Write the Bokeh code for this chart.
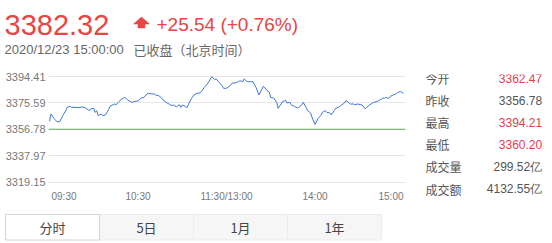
from bokeh.plotting import figure
from bokeh.models import Range1d, FixedTicker, Span, PrintfTickFormatter
from bokeh.layouts import column, row
from bokeh.core.properties import value
from bokeh.embed import file_html
from bokeh.resources import INLINE

# ---------------- data ----------------
minutes = [0, 1, 3, 5, 7, 9, 11, 12, 14, 15, 18, 20, 22, 24, 26, 27, 28, 30, 31, 32,
           33, 35, 36, 38, 40, 41, 44, 45, 47, 49, 51, 53, 55, 56, 58, 60, 62, 64, 66, 67,
           69, 71, 72, 74, 76, 77, 79, 81, 83, 84, 86, 88, 89, 90, 92, 93, 94, 96, 98, 100,
           102, 103, 105, 107, 108, 110, 112, 113, 115, 117, 118, 120, 121, 123, 124, 126, 128, 129, 131, 132,
           134, 136, 138, 140, 142, 144, 145, 147, 149, 150, 152, 154, 155, 157, 158, 160, 161, 163, 164, 166,
           168, 169, 171, 172, 174, 175, 177, 178, 180, 182, 184, 185, 187, 188, 190, 191, 193, 194, 196, 198,
           200, 201, 202, 204, 206, 207, 209, 211, 212, 214, 215, 217, 219, 220, 222, 224, 226, 227, 228, 230,
           231, 233, 235, 236, 238, 239, 240]
prices = [3362.47, 3367.69, 3364.55, 3362.20, 3362.20, 3366.50, 3370.05, 3372.40, 3373.10, 3372.40,
          3372.40, 3372.20, 3372.70, 3372.20, 3370.80, 3370.05, 3371.30, 3371.70, 3368.80, 3370.05,
          3366.50, 3367.70, 3366.50, 3367.00, 3370.80, 3373.10, 3374.80, 3374.10, 3376.50, 3378.40,
          3379.50, 3377.70, 3376.50, 3376.00, 3376.70, 3377.00, 3379.10, 3379.50, 3382.00, 3382.40,
          3382.00, 3382.00, 3381.20, 3380.75, 3379.10, 3377.70, 3376.00, 3374.80, 3373.60, 3374.10,
          3372.70, 3374.30, 3372.40, 3374.10, 3373.10, 3372.00, 3374.10, 3378.40, 3381.20, 3382.40,
          3382.70, 3383.60, 3386.70, 3389.10, 3390.70, 3394.21, 3392.20, 3392.70, 3390.20, 3387.90,
          3386.00, 3386.00, 3386.70, 3388.40, 3389.80, 3389.80, 3390.70, 3391.40, 3390.70, 3392.70,
          3390.70, 3390.70, 3390.70, 3386.70, 3381.20, 3385.50, 3387.40, 3385.00, 3383.10, 3379.50,
          3379.10, 3376.00, 3371.70, 3374.80, 3376.50, 3377.40, 3375.50, 3376.00, 3374.10, 3373.10,
          3372.00, 3372.40, 3374.10, 3376.00, 3372.40, 3370.05, 3368.40, 3365.30, 3360.20, 3364.30,
          3366.70, 3368.80, 3370.05, 3368.80, 3368.40, 3367.00, 3370.05, 3371.70, 3372.40, 3374.10,
          3375.50, 3377.20, 3376.50, 3374.80, 3374.80, 3374.30, 3374.80, 3374.30, 3374.10, 3371.30,
          3372.40, 3374.10, 3375.50, 3376.00, 3376.50, 3377.70, 3379.10, 3378.80, 3379.50, 3378.80,
          3380.25, 3381.20, 3382.00, 3383.10, 3383.60, 3383.10, 3382.32]
prev_close = 3356.78
y_ticks = [3319.15, 3337.97, 3356.78, 3375.59, 3394.41]
x_tick_minutes = [0, 60, 120, 180, 240]
x_tick_labels = ["09:30", "10:30", "11:30/13:00", "14:00", "15:00"]

last_price = "3382.32"
change_text = "+25.54 (+0.76%)"
timestamp = "2020/12/23 15:00:00"
status_text = "已收盘（北京时间）"

stat_names = ["今开", "昨收", "最高", "最低", "成交量", "成交额"]
stat_values = ["3362.47", "3356.78", "3394.21", "3360.20", "299.52亿", "4132.55亿"]
stat_is_red = [True, False, True, True, False, False]

tab_labels = ["分时", "5日", "1月", "1年"]

# ---------------- styles ----------------
RED = "#e84545"
RED2 = "#e2404d"
GRAY = "#777777"
DARK = "#555555"
LAT = "Liberation Sans"
CJK = "Noto Sans CJK SC"


def blank(w, h, y0, y1, top=0, bottom=0):
    f = figure(width=w, height=h, x_range=Range1d(0, w), y_range=Range1d(y1, y0),
               x_axis_location=None, y_axis_location=None, toolbar_location=None,
               output_backend="svg", min_border_left=0, min_border_right=0,
               min_border_top=top, min_border_bottom=bottom)
    f.outline_line_color = None
    f.grid.grid_line_color = None
    f.background_fill_color = "white"
    f.border_fill_color = "white"
    return f


# ---------------- header ----------------
head = blank(552, 62, 0, 62)
head.text(x=[4], y=[24.5], text=[last_price], text_font=value(LAT), text_font_size="29px",
          text_color=RED, text_baseline="middle", text_align="left")
head.patch(x=[141, 149, 144.5, 144.5, 137.5, 137.5, 133],
           y=[16.5, 23.5, 23.5, 27.5, 27.5, 23.5, 23.5], fill_color=RED, line_color=RED, line_width=0.5)
head.text(x=[156], y=[24], text=[change_text], text_font=value(LAT), text_font_size="19px",
          text_color=RED, text_baseline="middle", text_align="left")
head.text(x=[4], y=[48.5], text=[timestamp], text_font=value(LAT), text_font_size="13px",
          text_color="#666666", text_baseline="middle", text_align="left")
head.text(x=[133], y=[48.5], text=[status_text], text_font=value(CJK), text_font_size="13px",
          text_color="#666666", text_baseline="middle", text_align="left")

# ---------------- main chart ----------------
# frame spans canvas x 48..405 and local y 12..148; the band below the lowest gridline holds the time labels
UPP = 75.26 / 105.5          # price units per pixel
y_lo = y_ticks[0] - 28.5 * UPP
y_hi = y_ticks[-1] + 2 * UPP
p = figure(width=410, height=148, x_range=Range1d(-0.678, 241.356), y_range=Range1d(y_lo, y_hi),
           x_axis_location=None, toolbar_location=None, output_backend="svg",
           min_border_left=48, min_border_right=5, min_border_top=12, min_border_bottom=0)
p.outline_line_color = None
p.background_fill_color = "white"
p.border_fill_color = "white"
p.yaxis.ticker = FixedTicker(ticks=y_ticks)
p.yaxis.formatter = PrintfTickFormatter(format="%.2f")
p.yaxis.axis_line_color = None
p.yaxis.major_tick_line_color = None
p.yaxis.minor_tick_line_color = None
p.yaxis.major_tick_out = 0
p.yaxis.major_tick_in = 0
p.yaxis.major_label_standoff = 3
p.yaxis.major_label_text_font = LAT
p.yaxis.major_label_text_font_size = "11px"
p.yaxis.major_label_text_color = GRAY
p.ygrid.grid_line_color = "#e6e6e6"
p.xgrid.grid_line_color = None

p.add_layout(Span(location=prev_close, dimension="width", line_color="#5caf57", line_width=1))
p.line(minutes, prices, line_color="#3f78d6", line_width=1)

lab_y = y_ticks[0] - 14 * UPP
p.text(x=x_tick_minutes[:1], y=[lab_y], text=x_tick_labels[:1], x_offset=2,
       text_align="left", text_baseline="middle", text_font=value(LAT), text_font_size="10px", text_color=GRAY)
p.text(x=x_tick_minutes[1:-1], y=[lab_y] * 3, text=x_tick_labels[1:-1],
       text_align="center", text_baseline="middle", text_font=value(LAT), text_font_size="10px", text_color=GRAY)
p.text(x=x_tick_minutes[-1:], y=[lab_y], text=x_tick_labels[-1:],
       text_align="right", text_baseline="middle", text_font=value(LAT), text_font_size="10px", text_color=GRAY)

# ---------------- stats (frame aligned with chart frame: local y 12..148) ----------------
st = blank(142, 148, 12, 148, top=12, bottom=0)
ys = [16 + 22.1 * i for i in range(len(stat_names))]
st.text(x=[15] * len(stat_names), y=ys, text=stat_names, text_font=value(CJK), text_font_size="12px",
        text_color=DARK, text_baseline="middle", text_align="left")
st.text(x=[131.7] * len(stat_values), y=ys, text=stat_values, text_font=value(LAT), text_font_size="12px",
        text_color=[RED2 if r else DARK for r in stat_is_red], text_baseline="middle", text_align="right")

# ---------------- tabs ----------------
tb = blank(552, 33, 0, 33)
tw = 94
lefts = [5 + tw * i for i in range(len(tab_labels))]
tb.quad(left=lefts[1:], right=[l + tw for l in lefts[1:]], top=4, bottom=29.5,
        fill_color="#f6f6f6", line_color="#ececec", line_width=1)
tb.quad(left=lefts[:1], right=[lefts[0] + tw], top=4, bottom=29.5,
        fill_color="white", line_color="#d4d4d4", line_width=1)
tb.text(x=[l + tw / 2 for l in lefts], y=[16.5] * len(tab_labels), text=tab_labels,
        text_font=value(CJK), text_font_size="13px", text_color="#444444",
        text_baseline="middle", text_align="center")

layout = column(head, row(p, st), tb)
open("out.html", "w").write(file_html(layout, INLINE))
